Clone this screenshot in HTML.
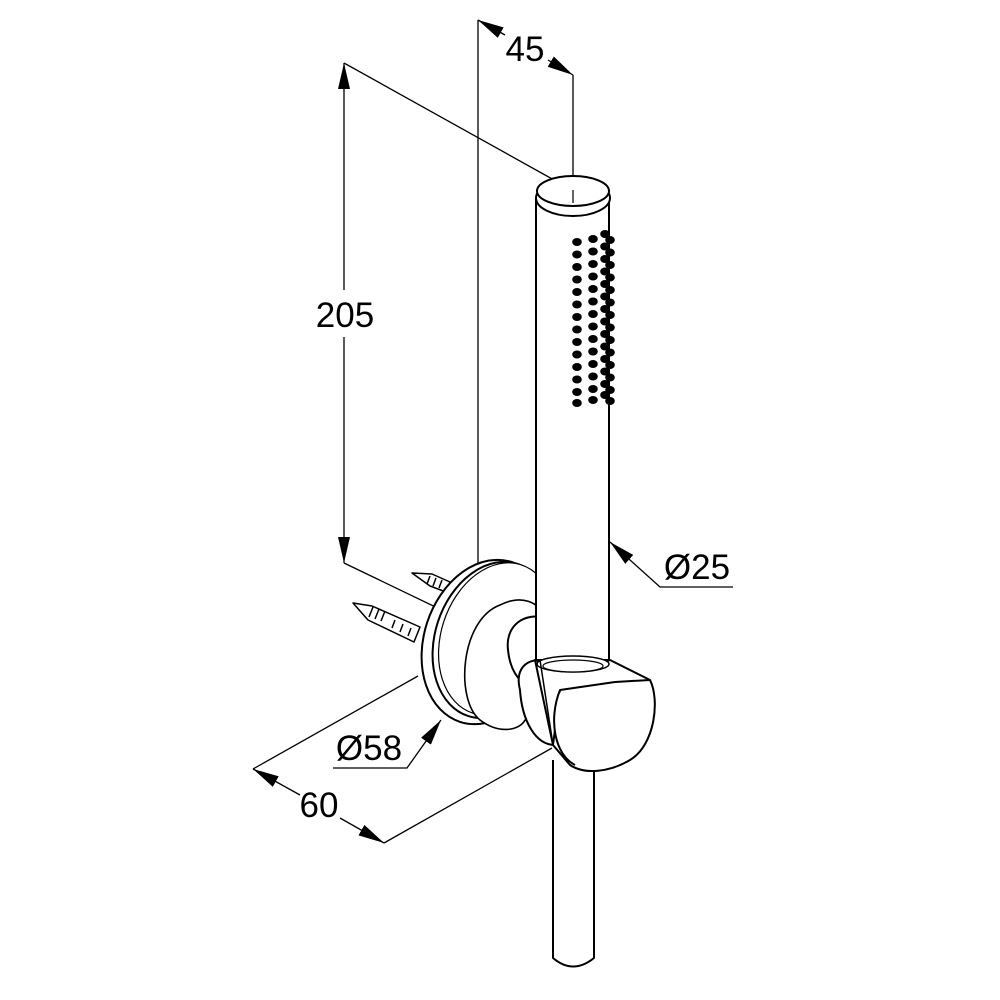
<!DOCTYPE html>
<html><head><meta charset="utf-8"><style>
html,body{margin:0;padding:0;background:#fff;}
svg{display:block;}
text{font-family:"Liberation Sans",Arial,sans-serif;fill:#000;}
</style></head><body>
<svg width="1000" height="1000" viewBox="0 0 1000 1000" xmlns="http://www.w3.org/2000/svg">
<defs>
<marker id="a" viewBox="0 0 26 12" refX="26" refY="6" markerWidth="26" markerHeight="12" markerUnits="userSpaceOnUse" orient="auto-start-reverse">
<path d="M26,6 L0,0 L0,12 Z" fill="#000"/></marker>
</defs>
<g fill="none" stroke="#000" stroke-width="1.3">
<line x1="344" y1="63" x2="344" y2="290" marker-start="url(#a)"/>
<line x1="344" y1="337" x2="344" y2="563" marker-end="url(#a)"/>
<line x1="344" y1="63" x2="572" y2="190"/>
<line x1="344" y1="563" x2="475" y2="626"/>
<line x1="478" y1="20" x2="478" y2="568"/>
<line x1="573" y1="75" x2="573" y2="190"/>
<line x1="478" y1="20" x2="505" y2="35" marker-start="url(#a)"/>
<line x1="548" y1="60" x2="573" y2="75" marker-end="url(#a)"/>
<polyline points="610,542 660,587 733,587" marker-start="url(#a)"/>
<polyline points="441,720 407,768 333,768" marker-start="url(#a)"/>
<line x1="253" y1="769" x2="418" y2="676"/>
<line x1="384" y1="843" x2="552" y2="748"/>
<line x1="253" y1="769" x2="300" y2="795" marker-start="url(#a)"/>
<line x1="340" y1="818" x2="384" y2="843" marker-end="url(#a)"/>
</g>
<g fill="#fff" stroke="#000" stroke-width="2" stroke-linejoin="round">
<g stroke-width="1.5">
<path d="M412,573 L432,574 L450,582 L446,592 L430,586 Z"/>
<path d="M430,576 l-3,8 M436,578 l-3,8 M442,580 l-3,8"/>
<path d="M353,603 L372,606 L420,627 L414,642 L368,620 Z"/>
<path d="M373,607 l-4,10 M379,609 l-4,10 M385,611 l-4,10 M395,620 l-3,8 M403,624 l-3,8 M411,628 l-3,8"/>
</g>
<ellipse cx="486" cy="642" rx="62" ry="84" transform="rotate(18 486 642)"/>
<ellipse cx="493" cy="640" rx="58" ry="80" transform="rotate(18 493 640)"/>
<ellipse cx="497" cy="639" rx="56" ry="78" transform="rotate(18 497 639)" stroke-width="1.2"/>
<path d="M500,605 C460,620 455,700 480,720 C500,735 520,730 525,720 L545,720 L545,620 C540,600 520,595 500,605 Z" stroke-width="1.6"/>
<path d="M508,650 C505,625 525,612 545,618 L545,690 C520,690 510,670 508,650 Z"/>
<path d="M536,198 L536,660 L609,660 L609,198"/>
<ellipse cx="573" cy="198" rx="37" ry="18"/>
<ellipse cx="573" cy="191" rx="36" ry="15"/>
<line x1="573" y1="190" x2="573" y2="203" stroke-width="1.2"/>
<path d="M553,760 L553,958 Q573,975 594,958 L594,768"/>
<path d="M520,690 C515,670 525,660 540,660 L555,745 C535,745 522,720 520,690 Z"/>
<path d="M535,660 Q573,676 610,660 L650,680 C660,700 655,745 630,760 C610,772 585,775 570,765 L553,745 Z"/>
<path d="M553,745 L560,690 L615,682 L650,680"/>
<path d="M560,690 C548,720 555,755 575,765" />
<ellipse cx="573" cy="664" rx="36" ry="8" stroke-width="1.5"/>
<ellipse cx="573" cy="666" rx="30" ry="6" stroke-width="1.2"/>
<line x1="540" y1="660" x2="553" y2="745" stroke-width="1.5"/>
</g>
<g fill="#000">
<g id="col">
<ellipse cx="577" cy="242" rx="4.8" ry="4"/><ellipse cx="577" cy="254.5" rx="4.8" ry="4"/>
<ellipse cx="577" cy="267" rx="4.8" ry="4"/><ellipse cx="577" cy="279.5" rx="4.8" ry="4"/>
<ellipse cx="577" cy="292" rx="4.8" ry="4"/><ellipse cx="577" cy="304.5" rx="4.8" ry="4"/>
<ellipse cx="577" cy="317" rx="4.8" ry="4"/><ellipse cx="577" cy="329.5" rx="4.8" ry="4"/>
<ellipse cx="577" cy="342" rx="4.8" ry="4"/><ellipse cx="577" cy="354.5" rx="4.8" ry="4"/>
<ellipse cx="577" cy="367" rx="4.8" ry="4"/><ellipse cx="577" cy="379.5" rx="4.8" ry="4"/>
<ellipse cx="577" cy="392" rx="4.8" ry="4"/><ellipse cx="577" cy="403" rx="4.8" ry="4"/>
</g>
<use href="#col" transform="translate(16,-3)"/>
<use href="#col" transform="translate(28,-8)"/>
<use href="#col" transform="translate(33,-2)"/>
</g>
<text x="525" y="61" font-size="35" text-anchor="middle">45</text>
<text x="345" y="327" font-size="35" text-anchor="middle">205</text>
<text x="697" y="579" font-size="35" text-anchor="middle">Ø25</text>
<text x="369" y="760" font-size="35" text-anchor="middle">Ø58</text>
<text x="319" y="817" font-size="35" text-anchor="middle">60</text>
</svg>
</body></html>
